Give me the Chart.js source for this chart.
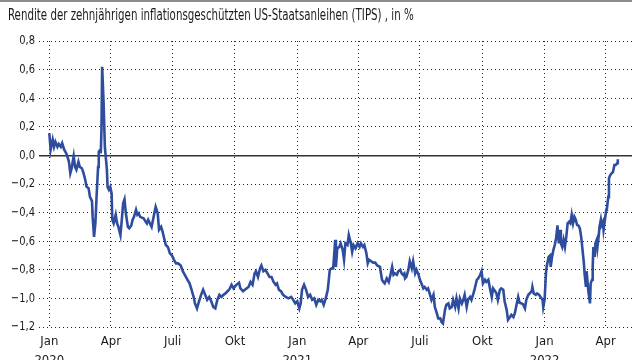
<!DOCTYPE html>
<html>
<head>
<meta charset="utf-8">
<script src="https://cdn.jsdelivr.net/npm/chart.js@4/dist/chart.umd.min.js"></script>
<style>
  html, body { margin: 0; padding: 0; background: #ffffff; }
  #wrap { width: 640px; height: 360px; }
</style>
</head>
<body>
<div id="wrap"><canvas id="c" width="640" height="360"></canvas></div>
<script>
// Chart title
const chartTitle = 'Rendite der zehnjährigen inflationsgeschützten US-Staatsanleihen (TIPS) , in %';

// x values: days since 1 Jan 2020
const dayOffset = [
  0,2,5,7,9,12,14,17,19,22,25,27,29,31,33,36,38,40,43,45,48,50,53,55,58,60,63,64,66,68,70,72,73,75,76,77,78,80,82,85,86,88,90,92,93,95,98,100,102,105,107,109,111,113,116,118,121,123,125,128,130,132,
  134,139,144,146,151,155,157,160,162,165,167,170,172,175,178,181,184,187,190,194,197,200,204,207,210,213,215,218,221,224,227,230,233,236,239,242,245,248,251,254,257,260,263,266,269,272,276,280,282,286,290,294,297,300,
  303,305,308,311,313,316,319,322,325,328,331,334,336,339,342,345,349,353,357,360,363,366,369,371,373,376,379,382,385,388,391,394,397,400,402,405,408,411,414,417,419,422,423,425,428,430,433,435,437,440,442,445,447,449,452,455,458,460,463,465,468,470,472,475,478,481,484,488,
  491,493,495,498,501,504,506,508,510,513,515,518,520,522,524,525,527,530,532,535,537,540,542,545,547,550,552,554,557,559,562,564,567,569,572,574,577,579,581,584,586,589,591,594,596,599,601,604,606,609,611,613,616,618,621,623,626,628,631,633,636,638,640,643,645,648,650,653,655,658,660,662,665,667,670,672,675,677,680,682,685,687,690,692,694,697,699,702,704,707,709,712,713,715,718,720,723,725,728,729,
  731,733,734,737,739,740,742,744,746,748,750,752,754,755,757,759,761,763,765,767,769,771,773,775,777,779,781,783,785,787,789,790,792,793,795,796,798,799,801,802,803,805,806,808,809,811,812,814,815,817,818,820,822,823,825,826,828,830,832,834,836,838,839
];

// TIPS yield, %
const yieldPct = [
  0.155,0.04,0.11,0.06,0.095,0.06,0.08,0.06,0.085,0.04,0.015,-0.013,-0.045,-0.125,-0.09,-0.005,-0.08,-0.10,-0.045,-0.08,-0.09,-0.115,-0.17,-0.22,-0.23,-0.29,-0.32,-0.43,-0.57,-0.475,-0.265,-0.08,0.025,0.04,0.015,0.18,0.62,0.387,0.06,-0.10,-0.22,-0.24,-0.22,-0.265,-0.45,-0.475,-0.415,-0.475,-0.50,-0.557,-0.45,-0.335,-0.307,-0.405,-0.50,-0.51,-0.49,-0.45,-0.43,-0.38,-0.415,-0.405,
  -0.43,-0.44,-0.475,-0.45,-0.50,-0.405,-0.36,-0.405,-0.52,-0.50,-0.53,-0.59,-0.627,-0.64,-0.685,-0.70,-0.73,-0.755,-0.755,-0.77,-0.81,-0.835,-0.87,-0.895,-0.94,-0.99,-1.035,-1.07,-1.02,-0.975,-0.94,-0.975,-1.01,-0.99,-1.02,-1.06,-1.07,-1.01,-0.975,-0.99,-0.975,-0.965,-0.95,-0.935,-0.905,-0.93,-0.905,-0.89,-0.93,-0.95,-0.935,-0.92,-0.885,-0.905,
  -0.825,-0.81,-0.85,-0.79,-0.77,-0.81,-0.80,-0.825,-0.85,-0.85,-0.885,-0.905,-0.895,-0.94,-0.95,-0.975,-0.99,-1.0,-0.99,-1.01,-1.035,-1.02,-1.07,-1.035,-0.94,-0.905,-0.94,-0.99,-0.975,-1.01,-1.0,-1.045,-1.01,-1.02,-1.01,-1.045,-1.0,-0.94,-0.80,-0.79,-0.79,-0.59,-0.78,-0.65,-0.64,-0.615,-0.66,-0.73,-0.615,-0.627,-0.557,-0.615,-0.675,-0.627,-0.65,-0.615,-0.64,-0.615,-0.64,-0.627,-0.685,-0.755,-0.73,-0.74,-0.75,-0.75,-0.77,-0.78,
  -0.87,-0.885,-0.895,-0.86,-0.885,-0.825,-0.78,-0.835,-0.825,-0.835,-0.81,-0.80,-0.825,-0.835,-0.825,-0.86,-0.85,-0.80,-0.74,-0.79,-0.74,-0.825,-0.80,-0.835,-0.87,-0.905,-0.93,-0.92,-0.94,-0.93,-0.975,-1.01,-0.975,-1.06,-1.105,-1.14,-1.14,-1.165,-1.175,-1.08,-1.045,-1.035,-1.07,-1.06,-1.01,-1.06,-1.0,-1.07,-1.0,-1.035,-1.01,-0.975,-1.06,-1.01,-0.99,-1.01,-0.965,-0.93,-0.87,-0.86,-0.835,-0.81,-0.895,-0.87,-0.885,-0.87,-0.92,-0.99,-0.93,-0.95,-0.965,-1.01,-0.94,-0.93,-0.94,-1.02,-1.08,-1.15,-1.13,-1.115,-1.13,-1.105,-1.035,-0.99,-1.03,-1.035,-1.04,-1.07,-1.01,-0.975,-0.965,-0.95,-0.92,-0.965,-0.975,-0.965,-0.975,-0.99,-1.01,-1.06,
  -1.01,-0.825,-0.78,-0.71,-0.70,-0.78,-0.71,-0.66,-0.627,-0.58,-0.49,-0.615,-0.52,-0.615,-0.64,-0.59,-0.64,-0.57,-0.475,-0.465,-0.475,-0.415,-0.475,-0.43,-0.45,-0.487,-0.49,-0.51,-0.57,-0.66,-0.755,-0.825,-0.92,-0.81,-0.92,-0.965,-1.035,-0.895,-0.87,-0.78,-0.64,-0.71,-0.615,-0.59,-0.64,-0.557,-0.50,-0.45,-0.487,-0.465,-0.52,-0.45,-0.38,-0.37,-0.29,-0.16,-0.137,-0.125,-0.115,-0.067,-0.067,-0.055,-0.027
];

// x axis ticks (days since 1 Jan 2020) and labels
const tickDays   = [0, 91, 182, 274, 366, 456, 547, 639, 731, 821];
const tickMonths = ['Jan', 'Apr', 'Juli', 'Okt', 'Jan', 'Apr', 'Juli', 'Okt', 'Jan', 'Apr'];
const tickYears  = ['2020', '', '', '', '2021', '', '', '', '2022', ''];

const FONT = "'Liberation Sans Narrow', 'DejaVu Sans Condensed', 'Roboto', sans-serif";

// horizontal condensing of text blocks (reference uses a condensed typeface)
function condense(obj, method, factor, anchorFn) {
  if (!obj || obj['_c_' + method]) return;
  const orig = obj[method];
  obj[method] = function () {
    const ctx = this.ctx;
    const ax = anchorFn(this);
    ctx.save();
    ctx.translate(ax, 0);
    ctx.scale(factor, 1);
    ctx.translate(-ax, 0);
    const r = orig.apply(this, arguments);
    ctx.restore();
    return r;
  };
  obj['_c_' + method] = true;
}

const decor = {
  id: 'decor',
  beforeDraw(chart) {
    const ctx = chart.ctx;
    ctx.save();
    ctx.fillStyle = '#ffffff';
    ctx.fillRect(0, 0, chart.width, chart.height);
    ctx.fillStyle = '#8c8c8c';
    ctx.fillRect(0, 0, chart.chartArea.right, 2);
    ctx.restore();
    condense(chart.titleBlock, 'draw', 0.76, (b) => b.left);
    condense(chart.scales.y, 'drawLabels', 0.85, (s) => s.right - s.options.ticks.padding);
  }
};

function fmt(v) {
  let s = Math.abs(v).toFixed(1).replace('.', ',');
  if (v < -1e-9) s = '\u2212' + s;
  return s;
}

new Chart(document.getElementById('c'), {
  type: 'line',
  data: {
    datasets: [{
      data: dayOffset.map((d, i) => ({ x: d, y: yieldPct[i] })),
      borderColor: '#2f4d9f',
      borderWidth: 2.6,
      pointRadius: 0,
      tension: 0,
      fill: false
    }]
  },
  options: {
    responsive: false,
    devicePixelRatio: 1,
    animation: false,
    layout: { padding: { left: 8, right: 8, top: 0, bottom: 0 } },
    plugins: {
      legend: { display: false },
      tooltip: { enabled: false },
      title: {
        display: true,
        text: chartTitle,
        align: 'start',
        color: '#1a1a1a',
        font: { family: FONT, size: 15, weight: 'normal', lineHeight: 1.2 },
        padding: { top: 7, bottom: 16 }
      }
    },
    scales: {
      x: {
        type: 'linear',
        min: -15.2,
        max: 860,
        afterBuildTicks: (s) => { s.ticks = tickDays.map(v => ({ value: v })); },
        afterFit: (s) => { s.height = 33; },
        grid: { color: '#222', lineWidth: 1, drawTicks: false },
        border: { display: false, dash: [1, 3] },
        ticks: {
          color: '#1a1a1a',
          font: { family: FONT, size: 13, lineHeight: 1.45 },
          padding: 5,
          maxRotation: 0,
          autoSkip: false,
          callback: (v, i) => [tickMonths[i], tickYears[i]]
        }
      },
      y: {
        min: -1.2,
        max: 0.8,
        afterFit: (s) => { s.width = 31; },
        grid: {
          drawTicks: false,
          color: (c) => (c.tick && Math.abs(c.tick.value) < 1e-9) ? '#333' : '#222',
          lineWidth: (c) => (c.tick && Math.abs(c.tick.value) < 1e-9) ? 1.5 : 1
        },
        border: {
          display: false,
          dash: (c) => (c.tick && Math.abs(c.tick.value) < 1e-9) ? [] : [1, 3]
        },
        ticks: {
          stepSize: 0.2,
          color: '#1a1a1a',
          font: { family: FONT, size: 13 },
          padding: 4,
          callback: (v) => fmt(v)
        }
      }
    }
  },
  plugins: [decor]
});
</script>
</body>
</html>
